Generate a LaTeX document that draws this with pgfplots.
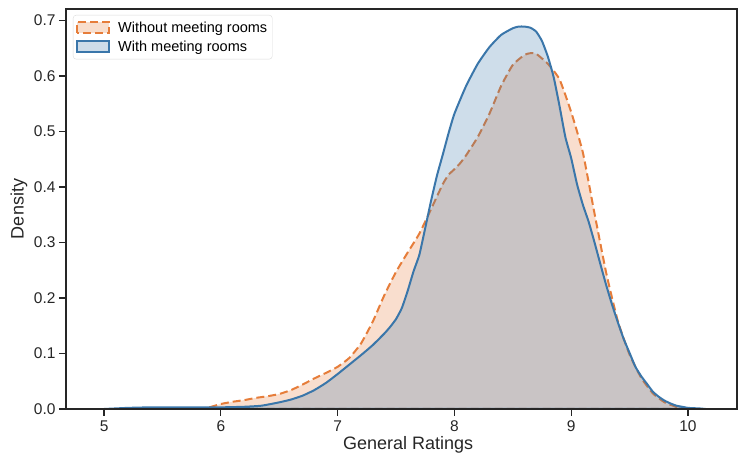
\documentclass[border=0pt]{standalone}
\usepackage{pgfplots}
\pgfplotsset{compat=1.18}
\usepackage{fontspec}
\setmainfont{Liberation Sans}
\definecolor{bline}{RGB}{58,118,170}
\definecolor{oline}{RGB}{230,125,58}
\definecolor{spine}{RGB}{38,38,38}
\begin{document}
\begin{tikzpicture}[x=1bp,y=1bp]
\path[use as bounding box] (0,0) rectangle (740,460);
\begin{axis}[
  at={(66bp,51bp)}, anchor=south west,
  scale only axis, width=671bp, height=400bp,
  xmin=4.674, xmax=10.42, ymin=0, ymax=0.7207,
  axis on top,
  axis line style={spine, line width=1.25bp},
  xtick pos=lower, ytick pos=left,
  xtick={5,6,7,8,9,10},
  ytick={0,0.1,0.2,0.3,0.4,0.5,0.6,0.7},
  yticklabel style={/pgf/number format/fixed,/pgf/number format/fixed zerofill,/pgf/number format/precision=1},
  /pgf/number format/assume math mode=true,
  tick style={spine, line width=1.25bp},
  tick align=outside, major tick length=7bp,
  ticklabel style={font=\fontsize{15.5bp}{18bp}\selectfont, text=spine},
  xticklabel style={yshift=-1bp},
  xlabel={General Ratings}, ylabel={Density},
  label style={font=\fontsize{18bp}{21bp}\selectfont, text=spine},
  xlabel style={at={(axis description cs:0.51,-0.09)}, anchor=center},
  ylabel style={at={(axis description cs:-0.070,0.5)}, anchor=center, rotate=0},
  legend style={at={(axis description cs:0.0104,0.985)}, anchor=north west,
    draw=black!14, rounded corners=3bp, fill=white, fill opacity=0.8, text opacity=1,
    font=\fontsize{14.5bp}{17bp}\selectfont, inner xsep=3bp, inner ysep=4.5bp,
    row sep=3bp, cells={anchor=west}},
  legend image code/.code={\draw[#1, sharp corners] (0bp,-5.5bp) rectangle (32bp,5.5bp); \path[draw=none, fill=none] (0bp,0bp) -- (39bp,0bp);},
]
\addplot[draw=oline, line width=2bp, dash pattern=on 8bp off 4bp, fill=oline, fill opacity=0.25, smooth, tension=0.3] table {
x y
5.8 0.000
5.9 0.003
6.0 0.009
6.1 0.013
6.2 0.016
6.3 0.020
6.4 0.023
6.5 0.027
6.6 0.034
6.7 0.044
6.8 0.055
6.9 0.065
7.0 0.076
7.1 0.092
7.2 0.118
7.3 0.157
7.4 0.205
7.5 0.247
7.6 0.282
7.7 0.316
7.8 0.360
7.9 0.405
7.95 0.422
8.0 0.432
8.05 0.443
8.1 0.457
8.2 0.490
8.3 0.532
8.4 0.582
8.5 0.620
8.6 0.638
8.65 0.641
8.7 0.640
8.8 0.622
8.9 0.594
9.0 0.535
9.1 0.462
9.2 0.352
9.3 0.245
9.4 0.158
9.5 0.098
9.6 0.056
9.7 0.028
9.8 0.012
9.9 0.004
10.0 0.001
10.05 0.000
} \closedcycle;
\addlegendentry{Without meeting rooms}
\addplot[draw=bline, line width=2bp, fill=bline, fill opacity=0.25, smooth, tension=0.3] table {
x y
5.0 0.000
5.2 0.002
5.4 0.003
5.6 0.003
5.8 0.003
6.0 0.003
6.2 0.004
6.35 0.006
6.5 0.012
6.6 0.017
6.7 0.024
6.8 0.034
6.9 0.047
7.0 0.063
7.1 0.080
7.2 0.097
7.3 0.115
7.4 0.136
7.45 0.148
7.5 0.162
7.55 0.182
7.6 0.213
7.65 0.248
7.7 0.278
7.75 0.326
7.8 0.375
7.85 0.420
7.9 0.458
7.95 0.497
8.0 0.532
8.1 0.582
8.2 0.622
8.3 0.652
8.4 0.674
8.5 0.686
8.55 0.689
8.6 0.689
8.65 0.687
8.7 0.680
8.75 0.663
8.8 0.635
8.85 0.598
8.9 0.546
8.95 0.490
9.0 0.452
9.05 0.405
9.1 0.368
9.15 0.337
9.2 0.300
9.25 0.261
9.3 0.223
9.35 0.188
9.4 0.156
9.45 0.126
9.5 0.101
9.55 0.076
9.6 0.059
9.65 0.045
9.7 0.031
9.75 0.022
9.8 0.015
9.85 0.010
9.9 0.006
9.95 0.004
10.0 0.002
10.1 0.001
10.15 0.000
} \closedcycle;
\addlegendentry{With meeting rooms}
\end{axis}
\end{tikzpicture}
\end{document}
